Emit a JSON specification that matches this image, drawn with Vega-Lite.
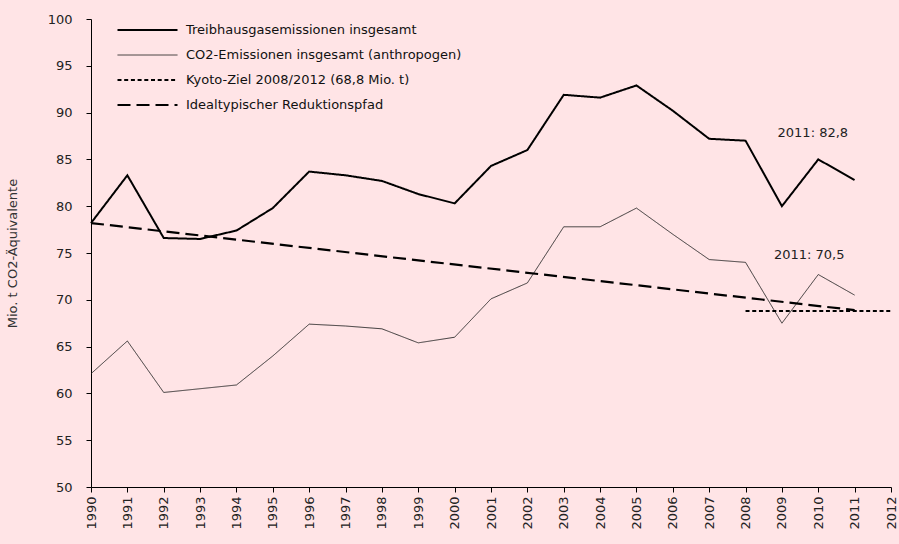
{
  "$schema": "https://vega.github.io/schema/vega-lite/v6.json",
  "width": 800,
  "height": 468,
  "autosize": {"type": "none"},
  "padding": {"left": 91, "top": 19, "right": 8, "bottom": 57},
  "background": "#FFE4E6",
  "config": {"view": {"stroke": null}, "font": "DejaVu Sans", "axis": {"labelOverlap": false}},
  "datasets": {
    "lines": [
      {"series": "Treibhausgasemissionen insgesamt", "year": 1990, "value": 78.2},
      {"series": "Treibhausgasemissionen insgesamt", "year": 1991, "value": 83.3},
      {"series": "Treibhausgasemissionen insgesamt", "year": 1992, "value": 76.6},
      {"series": "Treibhausgasemissionen insgesamt", "year": 1993, "value": 76.5},
      {"series": "Treibhausgasemissionen insgesamt", "year": 1994, "value": 77.4},
      {"series": "Treibhausgasemissionen insgesamt", "year": 1995, "value": 79.8},
      {"series": "Treibhausgasemissionen insgesamt", "year": 1996, "value": 83.7},
      {"series": "Treibhausgasemissionen insgesamt", "year": 1997, "value": 83.3},
      {"series": "Treibhausgasemissionen insgesamt", "year": 1998, "value": 82.7},
      {"series": "Treibhausgasemissionen insgesamt", "year": 1999, "value": 81.3},
      {"series": "Treibhausgasemissionen insgesamt", "year": 2000, "value": 80.3},
      {"series": "Treibhausgasemissionen insgesamt", "year": 2001, "value": 84.3},
      {"series": "Treibhausgasemissionen insgesamt", "year": 2002, "value": 86.0},
      {"series": "Treibhausgasemissionen insgesamt", "year": 2003, "value": 91.9},
      {"series": "Treibhausgasemissionen insgesamt", "year": 2004, "value": 91.6},
      {"series": "Treibhausgasemissionen insgesamt", "year": 2005, "value": 92.9},
      {"series": "Treibhausgasemissionen insgesamt", "year": 2006, "value": 90.2},
      {"series": "Treibhausgasemissionen insgesamt", "year": 2007, "value": 87.2},
      {"series": "Treibhausgasemissionen insgesamt", "year": 2008, "value": 87.0},
      {"series": "Treibhausgasemissionen insgesamt", "year": 2009, "value": 80.0},
      {"series": "Treibhausgasemissionen insgesamt", "year": 2010, "value": 85.0},
      {"series": "Treibhausgasemissionen insgesamt", "year": 2011, "value": 82.8},
      {"series": "CO2-Emissionen insgesamt (anthropogen)", "year": 1990, "value": 62.1},
      {"series": "CO2-Emissionen insgesamt (anthropogen)", "year": 1991, "value": 65.6},
      {"series": "CO2-Emissionen insgesamt (anthropogen)", "year": 1992, "value": 60.1},
      {"series": "CO2-Emissionen insgesamt (anthropogen)", "year": 1993, "value": 60.5},
      {"series": "CO2-Emissionen insgesamt (anthropogen)", "year": 1994, "value": 60.9},
      {"series": "CO2-Emissionen insgesamt (anthropogen)", "year": 1995, "value": 64.0},
      {"series": "CO2-Emissionen insgesamt (anthropogen)", "year": 1996, "value": 67.4},
      {"series": "CO2-Emissionen insgesamt (anthropogen)", "year": 1997, "value": 67.2},
      {"series": "CO2-Emissionen insgesamt (anthropogen)", "year": 1998, "value": 66.9},
      {"series": "CO2-Emissionen insgesamt (anthropogen)", "year": 1999, "value": 65.4},
      {"series": "CO2-Emissionen insgesamt (anthropogen)", "year": 2000, "value": 66.0},
      {"series": "CO2-Emissionen insgesamt (anthropogen)", "year": 2001, "value": 70.1},
      {"series": "CO2-Emissionen insgesamt (anthropogen)", "year": 2002, "value": 71.8},
      {"series": "CO2-Emissionen insgesamt (anthropogen)", "year": 2003, "value": 77.8},
      {"series": "CO2-Emissionen insgesamt (anthropogen)", "year": 2004, "value": 77.8},
      {"series": "CO2-Emissionen insgesamt (anthropogen)", "year": 2005, "value": 79.8},
      {"series": "CO2-Emissionen insgesamt (anthropogen)", "year": 2006, "value": 77.0},
      {"series": "CO2-Emissionen insgesamt (anthropogen)", "year": 2007, "value": 74.3},
      {"series": "CO2-Emissionen insgesamt (anthropogen)", "year": 2008, "value": 74.0},
      {"series": "CO2-Emissionen insgesamt (anthropogen)", "year": 2009, "value": 67.5},
      {"series": "CO2-Emissionen insgesamt (anthropogen)", "year": 2010, "value": 72.7},
      {"series": "CO2-Emissionen insgesamt (anthropogen)", "year": 2011, "value": 70.5},
      {"series": "Kyoto-Ziel 2008/2012 (68,8 Mio. t)", "year": 2008, "value": 68.8},
      {"series": "Kyoto-Ziel 2008/2012 (68,8 Mio. t)", "year": 2012, "value": 68.8},
      {"series": "Idealtypischer Reduktionspfad", "year": 1990, "value": 78.2},
      {"series": "Idealtypischer Reduktionspfad", "year": 2011, "value": 68.9}
    ],
    "labels": [
      {"year": 2009.85, "value": 87.8, "label": "2011: 82,8"},
      {"year": 2009.75, "value": 74.8, "label": "2011: 70,5"}
    ]
  },
  "layer": [
    {
      "data": {"name": "lines"},
      "mark": {"type": "line", "strokeCap": "butt"},
      "encoding": {
        "x": {
          "field": "year", "type": "quantitative",
          "scale": {"domain": [1990, 2012], "nice": false, "zero": false},
          "axis": {
            "title": null, "values": [1990,1991,1992,1993,1994,1995,1996,1997,1998,1999,2000,2001,2002,2003,2004,2005,2006,2007,2008,2009,2010,2011,2012],
            "tickCount": 23,
            "format": "d", "labelAngle": -90, "labelAlign": "right", "labelBaseline": "middle",
            "grid": false, "domainColor": "#000", "tickColor": "#000", "tickSize": 5,
            "labelFontSize": 13, "labelColor": "#222", "labelPadding": 4, "labelFlush": false,
            "labelOverlap": false, "labelSeparation": 0
          }
        },
        "y": {
          "field": "value", "type": "quantitative",
          "scale": {"domain": [50, 100], "nice": false, "zero": false},
          "axis": {
            "title": "Mio. t CO2-Äquivalente", "values": [50,55,60,65,70,75,80,85,90,95,100],
            "grid": false, "domainColor": "#000", "tickColor": "#000", "tickSize": 5,
            "labelFontSize": 13, "labelColor": "#222", "labelPadding": 14,
            "titleFontSize": 13, "titleFontWeight": "normal", "titleColor": "#333", "titlePadding": 28
          }
        },
        "color": {
          "field": "series", "type": "nominal",
          "scale": {
            "domain": ["Treibhausgasemissionen insgesamt", "CO2-Emissionen insgesamt (anthropogen)", "Kyoto-Ziel 2008/2012 (68,8 Mio. t)", "Idealtypischer Reduktionspfad"],
            "range": ["#000000", "#222222", "#000000", "#000000"]
          },
          "legend": {
            "title": null, "orient": "none", "legendX": 25, "legendY": 3,
            "symbolType": "stroke", "symbolSize": 3600, "labelFontSize": 13, "labelColor": "#111",
            "labelOffset": 7, "clipHeight": 16, "rowPadding": 9, "labelLimit": 0
          }
        },
        "strokeDash": {
          "field": "series", "type": "nominal",
          "scale": {
            "type": "ordinal",
            "domain": ["Treibhausgasemissionen insgesamt", "CO2-Emissionen insgesamt (anthropogen)", "Kyoto-Ziel 2008/2012 (68,8 Mio. t)", "Idealtypischer Reduktionspfad"],
            "range": [[1, 0], [1, 0], [4, 2.7], [13, 6]]
          },
          "legend": {
            "title": null, "orient": "none", "legendX": 25, "legendY": 3,
            "symbolType": "stroke", "symbolSize": 3600, "labelFontSize": 13, "labelColor": "#111",
            "labelOffset": 7, "clipHeight": 16, "rowPadding": 9, "labelLimit": 0
          }
        },
        "strokeWidth": {
          "field": "series", "type": "nominal",
          "scale": {
            "type": "ordinal",
            "domain": ["Treibhausgasemissionen insgesamt", "CO2-Emissionen insgesamt (anthropogen)", "Kyoto-Ziel 2008/2012 (68,8 Mio. t)", "Idealtypischer Reduktionspfad"],
            "range": [2, 0.9, 2, 2.2]
          },
          "legend": {
            "title": null, "orient": "none", "legendX": 25, "legendY": 3,
            "symbolType": "stroke", "symbolSize": 3600, "labelFontSize": 13, "labelColor": "#111",
            "labelOffset": 7, "clipHeight": 16, "rowPadding": 9, "labelLimit": 0
          }
        }
      }
    },
    {
      "data": {"name": "labels"},
      "mark": {"type": "text", "fontSize": 13, "color": "#222", "align": "center", "baseline": "middle"},
      "encoding": {
        "x": {"field": "year", "type": "quantitative"},
        "y": {"field": "value", "type": "quantitative"},
        "text": {"field": "label"}
      }
    }
  ]
}
